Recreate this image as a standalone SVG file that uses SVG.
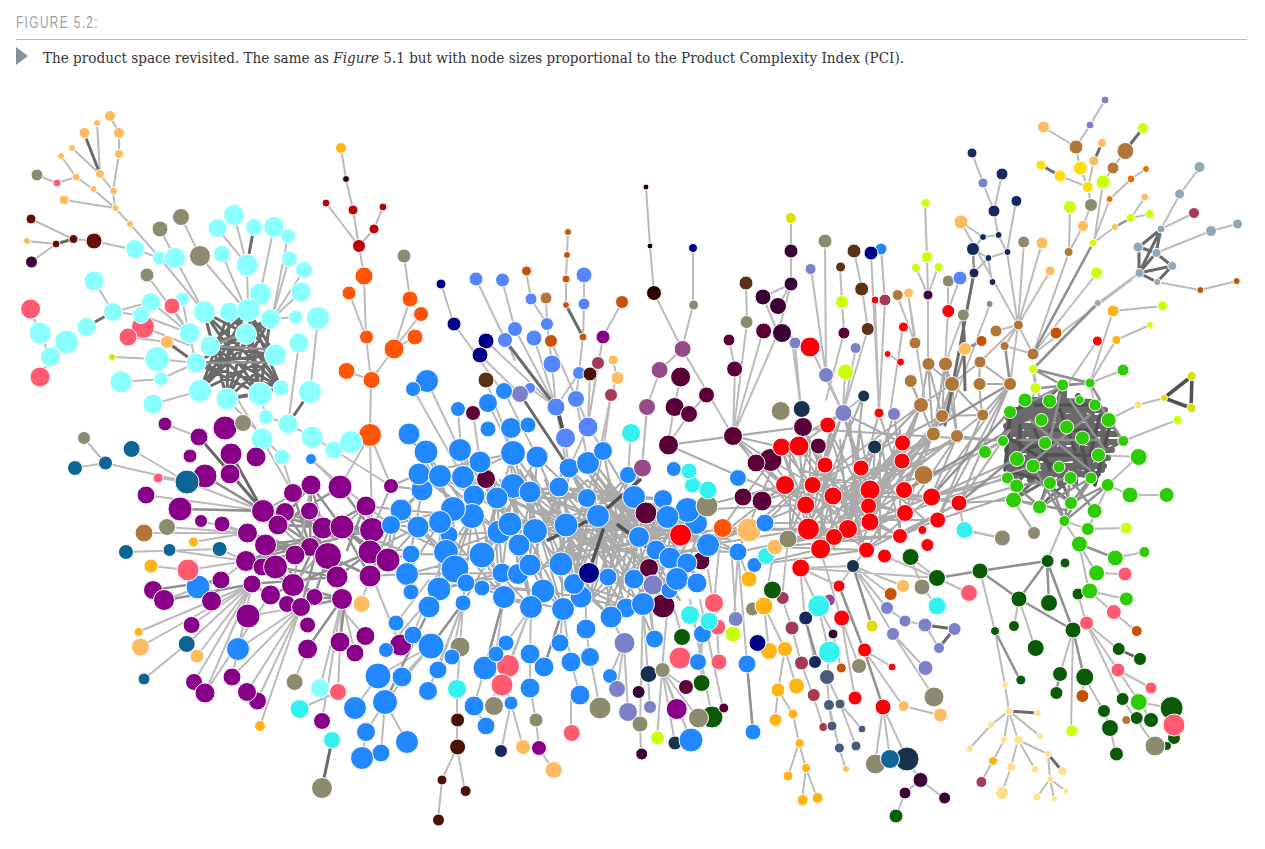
<svg xmlns="http://www.w3.org/2000/svg" width="1265" height="849" viewBox="0 0 1265 849">
<style>
text{white-space:pre}
.t1{font:17px "Liberation Sans",sans-serif;fill:#9a9ea3;letter-spacing:2px}
.t2{font:14px "DejaVu Serif",serif;fill:#333}
circle{stroke:#fff;stroke-width:1}
path.e{fill:none;stroke-linecap:round;stroke-linejoin:round}
.l{stroke:#bbb;stroke-width:2}
.m{stroke:#aaa;stroke-width:2}
.g{stroke:#909090;stroke-width:2.5}
.h{stroke:#6a6a6a;stroke-width:3}
.d{stroke:#505050;stroke-width:3.5}
.x{stroke:#666;stroke-width:6}
.cy{fill:#8affff}.pu{fill:#880088}.bl{fill:#2288ff}.re{fill:#ff0008}.gr{fill:#2ecc05}.dg{fill:#0b5a08}
.ma{fill:#5c0038}.dp{fill:#3a0038}.or{fill:#ff5505}.ta{fill:#b07738}.lo{fill:#ffbb60}.yo{fill:#ffb414}
.pk{fill:#ff5a70}.ol{fill:#8c8b70}.pe{fill:#7b80c8}.mb{fill:#5586ff}.na{fill:#000088}.nt{fill:#17324f}
.te{fill:#0f6496}.tu{fill:#33f2f0}.yg{fill:#c8ff0a}.ye{fill:#dddd00}.go{fill:#ffdd0a}.py{fill:#ffe08a}
.dr{fill:#bb0008}.br{fill:#670c04}.db{fill:#5a3216}.ru{fill:#c65208}.oa{fill:#e07400}.gb{fill:#91a8b8}
.sl{fill:#4a5a78}.ro{fill:#a43a55}.mv{fill:#964a88}.nb{fill:#16285c}.dk{fill:#4a1205}.bk{fill:#300000}
</style>
<text class="t1" x="16" y="28" textLength="83" lengthAdjust="spacingAndGlyphs">FIGURE 5.2:</text>
<path d="M16 39.500H1247" stroke="#bbb" stroke-width="1" fill="none"/>
<path d="M16 47L28 56L16 65Z" fill="#8a929a"/>
<text class="t2" x="43" y="63" textLength="861" lengthAdjust="spacingAndGlyphs">The product space revisited. The same as <tspan font-style="italic">Figure</tspan> 5.1 but with node sizes proportional to the Product Complexity Index (PCI).</text>
<g id="connectors">
<path class="e m" d="M401 510 472 516 419 474 499 532 440 476 535 531 463 477 566 525 513 486 598 516 530 492 639 537 559 487 656 550 587 498 670 558 634 497 708 545M391 525 446 552 418 527 455 569 449 535 504 597 482 555 531 607 519 545 563 609 561 564 611 617 574 584 643 604 608 577 677 579 634 579 697 583M422 490 407 574 440 522 439 589 472 516 463 603 510 524 543 591 530 492 581 597 566 525 626 608 598 516 654 639 639 537 669 590M513 453 482 555 537 457 530 565 569 468 561 564 603 451 574 584 628 475 608 577 634 497 634 579 663 499 656 550 687 510 670 558M409 434 453 509 426 452 472 516 460 450 510 524 480 462 535 531 513 453 566 525 537 457 598 516 569 468 639 537 588 463 656 550M401 510 446 552 453 509 455 569 472 516 482 555 497 498 502 573 513 486 518 574 530 492 530 565 559 487 561 564 587 498 574 584 598 516 608 577M411 554 482 555 407 574 502 573 439 589 518 574 466 583 543 591 482 588 531 607 504 597 563 609 543 591 581 597 626 608 574 584 611 617M419 474 513 453 463 477 530 492 474 496 559 487 497 498 587 498 530 492 634 497 559 487 663 499 587 498 687 510 598 516 696 523M391 525 418 527 449 535 499 532 535 531 566 525 598 516 639 537 667 517 708 545 680 535 738 552M440 476 401 510 422 490 391 525 453 509 418 527 472 516 446 552 499 532 482 555 510 524 519 545 535 531 561 564 566 525 574 584 598 516 611 617 639 537 626 608 670 558 643 604"/>
<path class="e m" d="M530 492 590 540 535 531 610 500 559 487 620 560 566 525 640 590 587 498 680 560 598 516 660 600 634 497 620 590 639 537 590 600 656 550 600 470 670 558 575 500 680 535 560 555 663 499 540 570 628 475 620 530 603 451 650 530 587 480 545 520M560 470 575 560 610 480 590 600 640 470 605 610 655 510 640 610 680 500 655 600 705 510 680 590M500 480 560 600 520 470 590 590 545 480 625 590 570 470 650 580 590 475 670 570M470 470 500 590 490 470 530 600 510 460 565 590 530 470 590 570M600 520 680 600 620 500 700 580 640 500 720 550 660 520 730 540M510 500 610 550 520 520 630 530 540 510 650 560 560 530 680 530 575 560 700 520 590 540 720 530"/>
<path class="e m" d="M598 516 708 545 634 497 738 552 656 550 765 523 670 558 805 505 687 510 785 485 708 545 808 529 722 528 781 447 738 552 848 529 749 530 825 465 765 523 870 522 788 539 905 513M733 436 808 529 781 447 848 529 799 446 870 522 825 465 866 550 785 485 900 536 812 485 905 513 833 496 931 497 870 490 959 503M757 463 805 505 770 460 833 496 803 427 866 550 827 425 868 506 843 413 870 490 894 414 904 490 879 413 848 529 863 396 808 529M744 497 785 485 762 501 812 485 788 539 833 496 808 529 870 490 820 549 905 513 848 529 931 497 866 550 959 503 900 536 937 520M781 447 805 505 799 446 808 529 819 446 834 537 825 465 820 549 861 468 848 529 875 447 870 522 902 443 868 506 902 461 834 537M843 413 781 447 843 413 799 446 843 413 825 465 843 413 861 468 843 413 902 443 843 413 805 505 843 413 870 490M733 436 803 427 733 436 781 447 733 436 770 460 733 436 785 485 733 436 805 505 668 445 733 436 668 445 803 427M722 528 808 529 749 530 848 529 775 547 870 522 788 539 900 536 775 547 866 550 754 565 820 549M902 443 921 405 902 461 942 416 904 490 933 434 905 513 957 436 931 497 1010 384 959 503 1010 384 937 520 982 415 868 506 957 436 870 490 933 434 866 550 933 434M861 468 921 405 870 522 942 416 848 529 933 434 833 496 921 405 812 485 942 416M921 405 928 364 942 416 945 364 952 384 928 364 933 434 945 364 957 436 952 384 921 405 910 381 933 434 952 384 942 416 982 415 979 384 1010 384 982 415 952 384 980 362 979 384 1010 384 980 362M840 440 850 540 860 430 880 540 880 440 900 530 900 430 860 550 850 420 820 540 830 430 810 530 810 440 790 530 790 450 835 550M800 470 920 500 810 490 925 460 820 510 930 440 835 525 915 430 850 500 940 470 860 520 925 520 870 470 960 440"/>
<path class="e g" d="M263 511 323 528 285 512 342 527 278 525 372 530 265 545 328 556 247 533 295 555 246 561 293 585 275 567 337 577 252 584 270 595 293 585 342 599 314 597 328 556 370 576 342 527 388 560 370 552 337 577M293 493 310 547 311 485 278 525 340 487 372 530 366 506 323 528 311 485 342 527 285 512 310 547 265 545 314 597 287 604 323 528 301 607 342 599 293 585 370 552 342 527 246 561 372 530 263 511 328 556 342 599M347 550 362 513"/>
<path class="e m" d="M401 510 366 506 372 530 391 486 372 530 401 510 388 560 418 527 370 552 407 574 370 576 391 525 388 560 411 554 342 527 366 506 391 525M391 486 422 490 391 486 419 474M310 547 337 577 278 525 309 511 342 527 293 585 311 485 263 511"/>
<path class="e h" d="M231 454 263 511"/>
<path class="e l" d="M165 424 199 437M199 437 263 511M230 474 263 511M205 476 263 511M187 482 263 511M146 495 263 511M180 509 263 511M201 521 247 533M222 524 247 533M167 527 247 533M144 533 247 533M193 542 247 533M126 552 219 549 246 561M169 550 246 561M151 566 188 570 246 561M164 600 221 580 246 561M211 601 252 584M191 625 252 584M138 632 252 584M140 647 252 584M197 656 252 584M187 644 252 584M144 679 187 644M194 682 252 584M205 693 252 584M232 677 301 607M247 692 301 607M257 701 301 607M260 726 301 607M238 649 301 607M248 616 301 607M232 677 252 584M205 693 270 595M294 682 307 649M320 688 342 599M338 692 340 642M322 721 342 599M299 709 338 692M340 642 342 599M355 653 342 599M365 636 342 610M400 645 372 576M361 604 370 576M84 438 105 463 75 468M105 463 187 482M131 449 187 482M158 478 187 482M243 423 225 428M282 457 293 493M262 439 293 493M311 459 366 506M334 450 391 486M370 435 391 486M370 435 340 487M370 435 372 530M311 459 340 487"/>
<path class="e g" d="M153 590 221 580M307 649 342 599M180 509 263 511M205 476 263 511M167 600 252 584M340 642 345 600"/>
<path class="e h" d="M199 437 263 511M322 788 332 740"/>
<path class="e h" d="M204 312 246 334 229 312 275 355 248 310 210 346 270 319 196 363 246 334 260 394 204 312 227 399 229 312 281 388 248 310 200 391 270 319 227 399 275 355 200 391 246 334 281 388 210 346 260 394 196 363 275 355 227 399 260 394M210 346 275 355 196 363M204 312 281 388M246 334 227 399M270 319 260 394M229 312 200 391M227 399 281 388M248 310 260 394M210 346 281 388M196 363 281 388"/>
<path class="e g" d="M196 363 275 362M210 346 281 350M250 330 213 346"/>
<path class="e l" d="M110 116 119 133 119 154 113 191 115 208 130 224 160 258 204 312M97 123 100 174 113 191M72 148 100 174M61 156 76 177 93 189 115 208M64 200 115 208M37 175 57 183 76 177M31 219 73 239M27 241 56 244M31 262 56 244M73 239 94 241 135 250M135 249 159 258 175 258 204 312M200 256 247 312M181 217 200 256M160 229 175 258M234 215 247 265M217 228 247 265M222 254 247 312M247 265 248 310M274 227 260 294M288 236 272 319M289 259 272 319M304 270 272 319M301 292 272 319M296 317 270 319M318 318 310 392M299 343 288 424M94 281 113 312 151 302M141 315 189 333M113 312 141 315M66 342 50 357M40 333 50 357M40 333 30 309M50 357 40 377M147 275 189 333M151 302 189 333M182 299 189 333M172 306 189 333M128 337 167 342M157 359 196 363M112 357 157 359M161 379 196 363M121 382 161 379M153 404 200 391M189 333 196 363M143 327 189 345M260 394 266 417 288 424 312 437 334 450M238 400 262 439M227 399 282 457"/>
<path class="e h" d="M84 133 100 174M86 327 113 312M167 342 196 363M247 265 254 227M288 424 310 392M56 244 73 239"/>
<path class="e l" d="M341 148 346 179 353 210 359 246 364 276 366 337 371 380 370 435M326 203 359 246M383 207 374 229 359 246M349 293 366 337M394 349 371 380M410 299 394 349M421 314 394 349M415 337 394 349M346 371 371 380M404 256 410 299M364 276 366 337"/>
<path class="e l" d="M441 284 454 324 505 395M486 341 556 407M480 355 520 394M476 279 515 360M502 280 515 329 556 407M505 340 556 407M534 338 556 407M531 299 547 324 552 364 556 407M546 298 547 324M526 271 531 299M584 275 584 304 583 337 576 399M568 232 567 255 566 279 566 305M551 341 588 425M622 302 603 337 588 425M598 363 588 425M613 360 617 378 611 395 600 450M590 374 588 425M579 373 556 407M530 388 556 407M427 381 472 476M413 389 463 477M486 380 513 453M458 409 463 477M473 413 480 462M504 391 537 457M488 403 513 453M520 394 569 468M611 395 603 451M631 432 628 475M576 399 588 463M556 407 566 463M588 425 603 451M565 438 569 468M588 427 569 468M647 407 642 468"/>
<path class="e h" d="M505 340 556 407M566 305 583 337M520 394 569 468M556 407 565 438"/>
<path class="e d" d="M557 407 565 438M598 516 640 480M603 530 588 575M548 540 598 516M618 525 665 560"/>
<path class="e l" d="M431 646 463 603M428 691 463 603M460 647 463 603M457 689 460 647M457 720 457 689M457 747 457 720M442 780 457 747M465 791 457 747M438 820 442 780M485 668 504 597M496 654 504 597M506 643 543 591M530 654 531 607M544 667 563 609M530 688 530 654M511 703 496 654M501 751 511 703M523 747 511 703M536 720 530 688M539 748 536 720M553 770 539 748M571 662 563 609M590 657 586 629M580 695 571 662M571 733 571 695M600 708 590 657M560 643 563 609M610 676 624 643M617 689 624 643M628 712 624 643M650 707 643 604M640 724 643 604M641 754 640 724M657 738 662 670M675 743 662 670M691 740 662 670M686 687 662 670M648 674 662 670M662 670 669 590M586 629 586 600M624 643 611 617M494 706 496 654M474 706 485 668M486 726 474 706M508 666 531 607M502 685 531 607M396 623 429 580M413 635 446 552M386 650 455 569M452 657 463 603M438 670 463 603M378 676 431 646M402 677 431 646M385 702 431 646M355 708 378 676M366 732 385 702M381 753 385 702M362 758 366 732M407 742 385 702M654 639 650 600M698 662 702 634M714 603 720 540M719 662 717 627 708 570M736 619 732 560M733 634 738 552M747 664 738 552M753 732 747 664M682 637 669 590M701 683 702 634M712 717 690 600M723 708 700 600M677 709 662 670M698 718 662 670"/>
<path class="e g" d="M431 646 463 603M385 702 439 589M753 732 747 664M485 668 504 597M544 667 563 609"/>
<path class="e l" d="M654 293 682 349M646 187 650 246 654 293M693 248 693 305 682 349M682 349 660 370 647 407 642 468M682 349 733 436M681 377 674 407M706 395 689 414 668 445M674 407 668 445M729 340 735 369 733 436M746 283 747 322 733 436M763 297 778 333M791 218 791 251 791 284 778 333 733 436M763 331 733 436M763 297 791 284M778 306 791 284M825 241 826 375M811 269 826 375 843 413M791 333 801 409M795 343 801 409M810 347 843 413M842 302 844 333 826 400M856 348 843 413M845 372 843 413M864 396 843 413M840 267 842 302M854 251 862 289 868 329 843 413M871 253 879 413M881 249 885 300 879 413M875 300 879 413M903 327 890 413M888 354 900 362M915 343 908 293 925 400M897 295 915 343M928 295 928 364M925 203 927 257 928 295M916 268 928 295M938 267 928 295M948 311 945 364M948 281 948 311M960 278 948 311M963 315 945 364M963 315 966 349M990 304 945 425M980 362 1018 325M1018 325 961 222M1018 325 1024 242M1018 325 1042 243M1018 325 1050 271M1018 325 996 331M1018 325 1033 354M1018 325 1005 346M1018 325 1010 384M1033 354 1069 252 1070 207M1069 252 1083 226 1091 205M1033 354 1093 243 1110 199M1033 354 1097 273M1033 369 1097 303M1033 354 1131 280M1005 346 1033 354M1090 383 1113 311 1163 306M1090 383 1116 340 1150 325M1123 370 1090 383M1094 243 1103 182M1091 205 1088 187 1060 176M1088 187 1080 168 1076 147M1043 127 1076 147 1090 125 1105 100M1088 187 1094 161 1102 143M1125 151 1103 182M1113 168 1103 182M1088 187 1091 205M1110 199 1131 179 1146 169M1093 243 1115 227 1131 218 1145 197M1131 218 1150 214M1098 303 1139 273M1139 273 1161 229 1180 194 1200 167M1161 229 1194 213M1156 253 1211 231 1237 224M1157 282 1200 290 1237 281M972 153 983 183 994 211 998 235 1007 252M1002 174 994 211M1016 201 1007 252M983 237 973 249 988 258 1007 252M983 237 998 235M988 258 992 282M974 273 988 258M1007 252 1018 325M961 222 983 237M1035 388 1010 490M1035 388 1033 369M1097 341 1010 470M1123 441 1177 420M1108 420 1138 405 1164 398M1138 457 1098 455M1090 383 1123 370M1090 383 1095 405M1130 495 1166 495M1107 485 1130 495M1064 521 1079 544 1096 573M1107 485 1138 457M1033 369 1090 383M1040 400 1033 369"/>
<path class="e g" d="M974 273 973 249M1033 354 1093 243M1098 303 1033 369M982 341 965 349M965 349 946 412M963 315 965 349M1005 346 1010 384M1131 218 1115 227"/>
<path class="e h" d="M1102 143 1094 161M1143 128 1125 151M1041 165 1060 176M1139 273 1161 229M1139 247 1156 253 1172 266M1139 273 1156 253M1139 273 1172 266 1157 282M1139 273 1157 282M1139 247 1139 273M1161 229 1139 247M1161 229 1156 253M963 315 965 390M974 273 945 425"/>
<path class="e d" d="M1164 398 1192 376 1191 408 1164 398"/>
<path class="e x" d="M1025 400 1095 402M1012 410 1105 410M1008 418 1110 418M1006 426 1112 426M1005 434 1116 434M1005 442 1118 442M1007 450 1112 450M1010 458 1108 458M1014 466 1104 466M1020 474 1098 474M1010 415 1010 470M1022 402 1015 478M1036 400 1030 480M1050 396 1045 484M1064 392 1060 484M1078 396 1075 484M1092 402 1090 478M1104 412 1102 470"/>
<path class="e h" d="M1020 402 1108 420 1010 412 1095 405 1025 400 1082 438 1003 441 1123 441 1017 460 1099 455 1033 466 1098 400 1010 476 1108 420 1041 420 1070 478 1026 402 1092 478 1050 401 1050 483 1065 386 1016 486 1079 400 1039 507 1108 445 1013 500 1082 438 1010 412 1059 467 1045 443 1071 503 1017 460 1091 478 1003 441 1050 483 1010 412 1033 466M1025 400 1017 460 1041 420 1033 466 1066 427 1059 467 1082 438 1091 478 1098 455 1123 441 1108 420 1082 438 1095 405 1066 427 1079 400 1045 443 1062 385 1003 441 1010 412 1045 443 1025 400"/>
<path class="e d" d="M1010 415 1005 470M1012 412 1030 402M1012 440 1060 470M1035 405 1100 405M1110 425 1095 485M1050 430 1090 430M1020 450 1060 440M1080 440 1090 480M1045 455 1095 455M1012 472 1040 480M1020 425 1020 470M1100 415 1090 455M1060 410 1075 450M1035 430 1050 470"/>
<path class="e g" d="M1034 400 1064 385 1090 383 1100 400M1040 388 1090 383M1033 369 1062 385M1033 369 1090 383M1100 405 1123 441M1035 480 1071 503M1050 483 1039 507M1070 478 1094 511M1091 478 1071 503M1107 485 1071 503M1016 486 1070 478 1065 521 1050 483M1033 466 1065 521M1092 478 1064 521M1108 485 1065 521M1014 500 1065 510M1040 507 1091 478M1016 486 1040 507M1030 420 1090 470M1090 415 1035 460M1060 395 1050 440M1070 400 1105 450M1020 440 1100 440"/>
<path class="e m" d="M905 490 1003 441M931 497 1010 478M959 503 1013 500M931 497 1017 459M905 513 1010 476M937 520 1013 495M959 503 1016 486M931 497 1033 466M810 429 1003 441M957 436 1003 441M985 452 1003 441M959 503 1010 430M900 536 959 503M931 497 959 503M1013 500 1035 533M1002 538 964 530M1014 500 1040 507"/>
<path class="e g" d="M931 497 1009 412M905 490 1010 430M959 503 1035 440M1010 384 940 425"/>
<path class="e l" d="M749 579 738 552M764 606 775 547M769 651 764 606M785 649 764 606M778 690 785 649M796 686 785 649M775 720 778 690M793 714 778 690M799 743 793 714M806 768 799 743M788 776 799 743M802 800 806 768M817 798 806 768M782 598 788 540M792 628 782 598M801 663 792 628M813 695 801 663M823 727 813 695M805 618 800 568M818 606 800 568M829 652 818 606M815 662 805 618M827 677 829 652M829 705 827 677M840 704 827 677M832 726 829 705M862 729 840 704M839 748 829 705M856 746 840 704M846 769 839 748M839 586 800 568M841 618 820 549M833 634 818 606M855 698 841 618M859 666 841 618M841 668 833 634M892 667 864 650M903 706 864 650M940 715 903 706M875 764 883 707M890 759 883 707M907 759 883 707M920 780 907 759M905 793 920 780M944 798 920 780M896 816 905 793M853 566 800 568M853 566 887 608M853 566 839 586M853 566 903 586M853 566 866 550M887 608 905 621 925 625M925 625 939 648M893 634 853 566M925 668 893 634M934 697 893 634M884 556 937 578M910 557 937 578M937 578 969 593M937 606 922 587M922 587 910 557M890 594 853 566M800 568 937 578M1019 599 1014 626M1019 599 1035 648M995 631 1005 685M980 571 995 631M1047 561 1064 521M1078 594 1086 623M1073 630 1086 623M1073 630 1060 674M1073 630 1071 731M1084 677 1104 711M1082 696 1084 677M1104 711 1110 728 1116 754M1115 558 1144 552M1079 544 1096 573M1079 544 1089 591M1096 573 1125 574M1089 591 1126 599M1089 591 1113 612M1113 612 1136 631M1086 623 1118 649M1086 623 1118 670M1118 670 1151 688M1086 623 1122 699M1122 699 1155 746M1118 670 1151 720M1138 702 1171 708M1126 528 1088 529 1108 485M1064 521 1088 529M1002 538 964 530 959 503M1034 533 1013 500"/>
<path class="e g" d="M864 650 839 586M883 707 864 650M853 566 872 626M980 571 1019 599M1047 561 1019 599M1047 561 1049 603M1047 561 1073 630M1019 599 1073 630M995 631 1020 680M1073 630 1084 677M1060 674 1056 693M1079 544 1115 558M937 578 980 571 1047 561M805 618 817 660"/>
<path class="e h" d="M925 625 954 629 939 648M1118 649 1140 659M1009 711 1037 713M1048 754 1062 771"/>
<path class="e l" d="M1005 685 1009 711 991 725 969 749M1009 711 1004 740 993 761 981 782M1009 711 1018 740 1011 767 1002 793M1009 711 1040 736M1018 740 1035 769M1018 740 1048 754 1050 779 1066 791M1050 779 1037 797M1050 779 1054 799"/>
</g>
<g id="nodes">
<g id="n1" class="lo"><circle cx="110" cy="116" r="5.500"/></g>
<g id="n2" class="lo"><circle cx="97" cy="123" r="3.500"/></g>
<g id="n3" class="lo"><circle cx="84.500" cy="133" r="5.500"/></g>
<g id="n4" class="lo"><circle cx="119" cy="133" r="5.500"/></g>
<g id="n5" class="lo"><circle cx="72" cy="148" r="3.500"/></g>
<g id="n6" class="lo"><circle cx="61" cy="156" r="3.500"/></g>
<g id="n7" class="lo"><circle cx="119" cy="154" r="4.500"/></g>
<g id="n8" class="lo"><circle cx="100" cy="174" r="4.500"/></g>
<g id="n9" class="lo"><circle cx="76" cy="177" r="4"/></g>
<g id="n10" class="lo"><circle cx="93.500" cy="189" r="3.500"/></g>
<g id="n11" class="lo"><circle cx="113.500" cy="191" r="4"/></g>
<g id="n12" class="lo"><circle cx="64" cy="200" r="5"/></g>
<g id="n13" class="lo"><circle cx="115.500" cy="208" r="3.500"/></g>
<g id="n14" class="lo"><circle cx="130" cy="224" r="3.500"/></g>
<g id="n15" class="lo"><circle cx="27" cy="241" r="3.500"/></g>
<g id="n16" class="ol"><circle cx="37" cy="175" r="6"/></g>
<g id="n17" class="pk"><circle cx="57" cy="183" r="4"/></g>
<g id="n18" class="br"><circle cx="31" cy="219" r="5"/></g>
<g id="n19" class="br"><circle cx="56" cy="244" r="4"/></g>
<g id="n20" class="br"><circle cx="73.500" cy="239" r="4.500"/></g>
<g id="n21" class="br"><circle cx="94" cy="241" r="8"/></g>
<g id="n22" class="dp"><circle cx="31.500" cy="262" r="6"/></g>
<g id="n23" class="ol"><circle cx="181" cy="217" r="8.500"/></g>
<g id="n24" class="ol"><circle cx="160" cy="229" r="8"/></g>
<g id="n25" class="ol"><circle cx="200" cy="256" r="10.500"/></g>
<g id="n26" class="ol"><circle cx="147" cy="275" r="7"/></g>
<g id="n27" class="pk"><circle cx="30.600" cy="309" r="10"/></g>
<g id="n28" class="pk"><circle cx="40" cy="377" r="10"/></g>
<g id="n29" class="pk"><circle cx="143" cy="327" r="11.500"/></g>
<g id="n30" class="pk"><circle cx="128" cy="337" r="9"/></g>
<g id="n31" class="lo"><circle cx="167" cy="342" r="6.500"/></g>
<g id="n32" class="ye"><circle cx="112" cy="357" r="3.500"/></g>
<g id="n33" class="cy"><circle cx="135" cy="249" r="9.500"/></g>
<g id="n34" class="cy"><circle cx="159.500" cy="258" r="7"/></g>
<g id="n35" class="cy"><circle cx="175" cy="258" r="10.500"/></g>
<g id="n36" class="cy"><circle cx="234" cy="215" r="10.500"/></g>
<g id="n37" class="cy"><circle cx="217.500" cy="228" r="9.500"/></g>
<g id="n38" class="cy"><circle cx="254" cy="227" r="8.500"/></g>
<g id="n39" class="cy"><circle cx="288" cy="236" r="7.500"/></g>
<g id="n40" class="cy"><circle cx="274" cy="227" r="10.500"/></g>
<g id="n41" class="cy"><circle cx="222" cy="254" r="8.500"/></g>
<g id="n42" class="cy"><circle cx="247" cy="265" r="11"/></g>
<g id="n43" class="cy"><circle cx="289.500" cy="259" r="8"/></g>
<g id="n44" class="cy"><circle cx="304" cy="270" r="8.500"/></g>
<g id="n45" class="cy"><circle cx="260.500" cy="294" r="11"/></g>
<g id="n46" class="cy"><circle cx="301" cy="292" r="10"/></g>
<g id="n47" class="cy"><circle cx="94" cy="281" r="10"/></g>
<g id="n48" class="cy"><circle cx="113" cy="312" r="9.500"/></g>
<g id="n49" class="cy"><circle cx="182.500" cy="299" r="7"/></g>
<g id="n50" class="pk"><circle cx="172" cy="306" r="8"/></g>
<g id="n51" class="cy"><circle cx="151" cy="302" r="9.500"/></g>
<g id="n52" class="cy"><circle cx="141" cy="315" r="8.500"/></g>
<g id="n53" class="cy"><circle cx="204.500" cy="312" r="11"/></g>
<g id="n54" class="cy"><circle cx="229.500" cy="312" r="10"/></g>
<g id="n55" class="cy"><circle cx="248.500" cy="310" r="11.500"/></g>
<g id="n56" class="cy"><circle cx="270.500" cy="319" r="10"/></g>
<g id="n57" class="cy"><circle cx="296" cy="317" r="7"/></g>
<g id="n58" class="cy"><circle cx="318" cy="318" r="11.500"/></g>
<g id="n59" class="cy"><circle cx="86.500" cy="327" r="9.500"/></g>
<g id="n60" class="cy"><circle cx="40" cy="333" r="11"/></g>
<g id="n61" class="cy"><circle cx="66.500" cy="342" r="12"/></g>
<g id="n62" class="cy"><circle cx="50.500" cy="357" r="10"/></g>
<g id="n63" class="cy"><circle cx="189.500" cy="333" r="10.500"/></g>
<g id="n64" class="cy"><circle cx="246" cy="334" r="10.500"/></g>
<g id="n65" class="cy"><circle cx="299" cy="343" r="10"/></g>
<g id="n66" class="cy"><circle cx="210" cy="346" r="10"/></g>
<g id="n67" class="cy"><circle cx="157" cy="359" r="12.500"/></g>
<g id="n68" class="cy"><circle cx="196" cy="363" r="10"/></g>
<g id="n69" class="cy"><circle cx="275.500" cy="355" r="11"/></g>
<g id="n70" class="cy"><circle cx="121" cy="382" r="11"/></g>
<g id="n71" class="cy"><circle cx="161" cy="379" r="7"/></g>
<g id="n72" class="cy"><circle cx="200" cy="391" r="11.500"/></g>
<g id="n73" class="cy"><circle cx="310" cy="392" r="11.500"/></g>
<g id="n74" class="cy"><circle cx="281" cy="388" r="8"/></g>
<g id="n75" class="cy"><circle cx="260" cy="394" r="12"/></g>
<g id="n76" class="cy"><circle cx="227" cy="399" r="11"/></g>
<g id="n77" class="cy"><circle cx="153" cy="404" r="10"/></g>
<g id="n78" class="cy"><circle cx="266" cy="417" r="7.500"/></g>
<g id="n79" class="cy"><circle cx="288" cy="424" r="10"/></g>
<g id="n80" class="cy"><circle cx="262" cy="439" r="11"/></g>
<g id="n81" class="cy"><circle cx="312" cy="437" r="11"/></g>
<g id="n82" class="cy"><circle cx="282" cy="457" r="8"/></g>
<g id="n83" class="cy"><circle cx="334" cy="450" r="9"/></g>
<g id="n84" class="or"><circle cx="370" cy="435" r="11.500"/></g>
<g id="n85" class="cy"><circle cx="351" cy="442" r="11.500"/></g>
<g id="n86" class="yo"><circle cx="341" cy="148" r="5.500"/></g>
<g id="n87" class="bk"><circle cx="346" cy="179" r="3.500"/></g>
<g id="n88" class="dr"><circle cx="326" cy="203" r="4"/></g>
<g id="n89" class="dr"><circle cx="353" cy="210" r="5"/></g>
<g id="n90" class="dr"><circle cx="383" cy="207" r="4"/></g>
<g id="n91" class="dr"><circle cx="374" cy="229" r="5"/></g>
<g id="n92" class="dr"><circle cx="359" cy="246" r="6.500"/></g>
<g id="n93" class="or"><circle cx="364" cy="276" r="9"/></g>
<g id="n94" class="or"><circle cx="349" cy="293" r="7"/></g>
<g id="n95" class="or"><circle cx="410" cy="299" r="8"/></g>
<g id="n96" class="or"><circle cx="421" cy="314" r="7.500"/></g>
<g id="n97" class="or"><circle cx="366.500" cy="337" r="7"/></g>
<g id="n98" class="or"><circle cx="415" cy="337" r="8"/></g>
<g id="n99" class="or"><circle cx="394" cy="349" r="10"/></g>
<g id="n100" class="or"><circle cx="371.500" cy="380" r="8.500"/></g>
<g id="n101" class="or"><circle cx="346.500" cy="371" r="8.500"/></g>
<g id="n102" class="ol"><circle cx="404" cy="256" r="7"/></g>
<g id="n103" class="na"><circle cx="441" cy="284" r="5"/></g>
<g id="n104" class="na"><circle cx="454" cy="324" r="7"/></g>
<g id="n105" class="na"><circle cx="486" cy="341" r="8"/></g>
<g id="n106" class="na"><circle cx="480" cy="355" r="8"/></g>
<g id="n107" class="mb"><circle cx="476" cy="279" r="7"/></g>
<g id="n108" class="mb"><circle cx="502.500" cy="280" r="7"/></g>
<g id="n109" class="mb"><circle cx="515" cy="329" r="7.500"/></g>
<g id="n110" class="mb"><circle cx="505" cy="340" r="7.500"/></g>
<g id="n111" class="mb"><circle cx="534" cy="338" r="8"/></g>
<g id="n112" class="mb"><circle cx="531" cy="299" r="6"/></g>
<g id="n113" class="mb"><circle cx="547" cy="324" r="6.500"/></g>
<g id="n114" class="mb"><circle cx="584" cy="275" r="8"/></g>
<g id="n115" class="mb"><circle cx="584" cy="304" r="6"/></g>
<g id="n116" class="mb"><circle cx="552" cy="364" r="9"/></g>
<g id="n117" class="mb"><circle cx="579" cy="373" r="6.500"/></g>
<g id="n118" class="mb"><circle cx="530" cy="388" r="5.500"/></g>
<g id="n119" class="mb"><circle cx="576" cy="399" r="8.500"/></g>
<g id="n120" class="mb"><circle cx="556" cy="407" r="9"/></g>
<g id="n121" class="mb"><circle cx="588" cy="427" r="10"/></g>
<g id="n122" class="mb"><circle cx="565.500" cy="438" r="10"/></g>
<g id="n123" class="ru"><circle cx="526.500" cy="271" r="5"/></g>
<g id="n124" class="ru"><circle cx="568" cy="232" r="3.500"/></g>
<g id="n125" class="ru"><circle cx="567" cy="255" r="3.500"/></g>
<g id="n126" class="ru"><circle cx="566" cy="279" r="4"/></g>
<g id="n127" class="ru"><circle cx="566" cy="305" r="3.500"/></g>
<g id="n128" class="ru"><circle cx="583" cy="337" r="4"/></g>
<g id="n129" class="ru"><circle cx="551" cy="341" r="6.500"/></g>
<g id="n130" class="ru"><circle cx="622" cy="302" r="6.500"/></g>
<g id="n131" class="ta"><circle cx="546" cy="298" r="6"/></g>
<g id="n132" class="pu"><circle cx="603" cy="337" r="7"/></g>
<g id="n133" class="ro"><circle cx="598" cy="363" r="6.500"/></g>
<g id="n134" class="ro"><circle cx="611" cy="395" r="6.500"/></g>
<g id="n135" class="lo"><circle cx="613" cy="360" r="5"/></g>
<g id="n136" class="lo"><circle cx="617.500" cy="378" r="6.500"/></g>
<g id="n137" class="dk"><circle cx="590" cy="374" r="7"/></g>
<g id="n138" class="db"><circle cx="486" cy="380" r="8"/></g>
<g id="n139" class="pe"><circle cx="520" cy="394" r="8.500"/></g>
<g id="n140" class="bl"><circle cx="427" cy="381" r="11.500"/></g>
<g id="n141" class="bl"><circle cx="413" cy="389" r="7.500"/></g>
<g id="n142" class="bl"><circle cx="504" cy="391" r="8.500"/></g>
<g id="n143" class="bl"><circle cx="488" cy="403" r="9.500"/></g>
<g id="n144" class="bl"><circle cx="458" cy="409" r="7.500"/></g>
<g id="n145" class="ma"><circle cx="473" cy="413" r="7.500"/></g>
<g id="n146" class="tu"><circle cx="631" cy="433" r="9.500"/></g>
<g id="n147" class="mv"><circle cx="647" cy="407" r="8.500"/></g>
<g id="n148" class="pu"><circle cx="165" cy="424" r="7"/></g>
<g id="n149" class="pu"><circle cx="225" cy="428" r="12"/></g>
<g id="n150" class="ol"><circle cx="243" cy="423" r="8.500"/></g>
<g id="n151" class="pu"><circle cx="199" cy="437" r="9"/></g>
<g id="n152" class="pu"><circle cx="190" cy="456" r="7"/></g>
<g id="n153" class="pu"><circle cx="256" cy="457" r="10"/></g>
<g id="n154" class="pu"><circle cx="231" cy="454" r="11"/></g>
<g id="n155" class="pu"><circle cx="205" cy="476" r="12"/></g>
<g id="n156" class="pu"><circle cx="230" cy="474" r="10"/></g>
<g id="n157" class="pu"><circle cx="146" cy="495" r="9"/></g>
<g id="n158" class="pu"><circle cx="180" cy="509" r="12"/></g>
<g id="n159" class="pu"><circle cx="201" cy="521" r="6.500"/></g>
<g id="n160" class="pu"><circle cx="222" cy="524" r="8"/></g>
<g id="n161" class="ol"><circle cx="84" cy="438" r="6.500"/></g>
<g id="n162" class="te"><circle cx="131.600" cy="449" r="8.500"/></g>
<g id="n163" class="te"><circle cx="105.500" cy="463" r="7"/></g>
<g id="n164" class="te"><circle cx="75" cy="468" r="7.500"/></g>
<g id="n165" class="pk"><circle cx="158" cy="478" r="5"/></g>
<g id="n166" class="te"><circle cx="187" cy="482" r="12"/></g>
<g id="n167" class="ol"><circle cx="167" cy="527" r="8.500"/></g>
<g id="n168" class="ta"><circle cx="144" cy="533" r="9"/></g>
<g id="n169" class="yo"><circle cx="193.500" cy="542" r="5"/></g>
<g id="n170" class="te"><circle cx="126" cy="552" r="7.500"/></g>
<g id="n171" class="te"><circle cx="169.500" cy="550" r="6.500"/></g>
<g id="n172" class="te"><circle cx="219.600" cy="549" r="7.500"/></g>
<g id="n173" class="yo"><circle cx="151" cy="566" r="7"/></g>
<g id="n174" class="bl"><circle cx="198" cy="587" r="12"/></g>
<g id="n175" class="pk"><circle cx="188" cy="570" r="11"/></g>
<g id="n176" class="pu"><circle cx="221" cy="580" r="9"/></g>
<g id="n177" class="pu"><circle cx="153" cy="590" r="9.500"/></g>
<g id="n178" class="pu"><circle cx="164" cy="600" r="10.500"/></g>
<g id="n179" class="pu"><circle cx="211.500" cy="601" r="10"/></g>
<g id="n180" class="pu"><circle cx="293" cy="493" r="9.500"/></g>
<g id="n181" class="pu"><circle cx="311" cy="485" r="10"/></g>
<g id="n182" class="pu"><circle cx="340" cy="487" r="12"/></g>
<g id="n183" class="pu"><circle cx="391" cy="486" r="7.500"/></g>
<g id="n184" class="pu"><circle cx="366" cy="506" r="10"/></g>
<g id="n185" class="pu"><circle cx="263" cy="511" r="11.500"/></g>
<g id="n186" class="pu"><circle cx="285" cy="512" r="9.500"/></g>
<g id="n187" class="pu"><circle cx="309.500" cy="511" r="9"/></g>
<g id="n188" class="pu"><circle cx="278" cy="525" r="10"/></g>
<g id="n189" class="pu"><circle cx="247.500" cy="533" r="10"/></g>
<g id="n190" class="pu"><circle cx="323" cy="528" r="11"/></g>
<g id="n191" class="pu"><circle cx="342" cy="527" r="12"/></g>
<g id="n192" class="pu"><circle cx="372" cy="530" r="12.500"/></g>
<g id="n193" class="pu"><circle cx="265.500" cy="545" r="11"/></g>
<g id="n194" class="pu"><circle cx="310" cy="547" r="9.500"/></g>
<g id="n195" class="pu"><circle cx="295" cy="555" r="10"/></g>
<g id="n196" class="pu"><circle cx="328" cy="556" r="13.500"/></g>
<g id="n197" class="pu"><circle cx="370" cy="552" r="12"/></g>
<g id="n198" class="pu"><circle cx="246" cy="561" r="10.500"/></g>
<g id="n199" class="pu"><circle cx="388" cy="560" r="12"/></g>
<g id="n200" class="pu"><circle cx="262" cy="567" r="9"/></g>
<g id="n201" class="pu"><circle cx="275.500" cy="567" r="12"/></g>
<g id="n202" class="pu"><circle cx="370" cy="576" r="11"/></g>
<g id="n203" class="pu"><circle cx="337" cy="577" r="11"/></g>
<g id="n204" class="pu"><circle cx="252" cy="584" r="9"/></g>
<g id="n205" class="pu"><circle cx="293" cy="585" r="11.500"/></g>
<g id="n206" class="pu"><circle cx="270.500" cy="595" r="10"/></g>
<g id="n207" class="pu"><circle cx="314.500" cy="597" r="8.500"/></g>
<g id="n208" class="pu"><circle cx="287" cy="604" r="8.500"/></g>
<g id="n209" class="pu"><circle cx="342" cy="599" r="10.500"/></g>
<g id="n210" class="pu"><circle cx="301" cy="607" r="9.500"/></g>
<g id="n211" class="lo"><circle cx="361.600" cy="604" r="8.500"/></g>
<g id="n212" class="pu"><circle cx="248" cy="616" r="12"/></g>
<g id="n213" class="pu"><circle cx="191.600" cy="625" r="8.500"/></g>
<g id="n214" class="pu"><circle cx="307.600" cy="625" r="8"/></g>
<g id="n215" class="pu"><circle cx="365.400" cy="636" r="9.500"/></g>
<g id="n216" class="pu"><circle cx="340" cy="642" r="10"/></g>
<g id="n217" class="pu"><circle cx="400.600" cy="645" r="11"/></g>
<g id="n218" class="pu"><circle cx="307.600" cy="649" r="10"/></g>
<g id="n219" class="pu"><circle cx="355" cy="653" r="9"/></g>
<g id="n220" class="pu"><circle cx="232" cy="677" r="9"/></g>
<g id="n221" class="pu"><circle cx="194" cy="682" r="8.500"/></g>
<g id="n222" class="pu"><circle cx="205" cy="693" r="10"/></g>
<g id="n223" class="pu"><circle cx="257.500" cy="701" r="9"/></g>
<g id="n224" class="pu"><circle cx="247" cy="692" r="9.500"/></g>
<g id="n225" class="pu"><circle cx="322" cy="721" r="8.500"/></g>
<g id="n226" class="pu"><circle cx="539" cy="748" r="7.500"/></g>
<g id="n227" class="yo"><circle cx="138.500" cy="632" r="4.500"/></g>
<g id="n228" class="lo"><circle cx="140.400" cy="647" r="9"/></g>
<g id="n229" class="te"><circle cx="186.700" cy="644" r="8.500"/></g>
<g id="n230" class="lo"><circle cx="197" cy="656" r="7"/></g>
<g id="n231" class="te"><circle cx="144" cy="679" r="6"/></g>
<g id="n232" class="yo"><circle cx="260" cy="726" r="5.500"/></g>
<g id="n233" class="bl"><circle cx="238" cy="649" r="11.500"/></g>
<g id="n234" class="ol"><circle cx="294.600" cy="682" r="8.500"/></g>
<g id="n235" class="cy"><circle cx="320" cy="688" r="9.500"/></g>
<g id="n236" class="pk"><circle cx="338" cy="692" r="8.500"/></g>
<g id="n237" class="tu"><circle cx="299.600" cy="709" r="9.500"/></g>
<g id="n238" class="tu"><circle cx="332" cy="740" r="8.500"/></g>
<g id="n239" class="ol"><circle cx="322" cy="788" r="10.500"/></g>
<g id="n240" class="bl"><circle cx="311" cy="459" r="5.500"/></g>
<g id="n241" class="bl"><circle cx="409" cy="434" r="11"/></g>
<g id="n242" class="bl"><circle cx="426" cy="452" r="12"/></g>
<g id="n243" class="bl"><circle cx="460" cy="450" r="11.500"/></g>
<g id="n244" class="bl"><circle cx="511" cy="428" r="10.500"/></g>
<g id="n245" class="bl"><circle cx="488" cy="429" r="8"/></g>
<g id="n246" class="bl"><circle cx="528" cy="425" r="8"/></g>
<g id="n247" class="ma"><circle cx="486" cy="479" r="9.500"/></g>
<g id="n248" class="bl"><circle cx="513" cy="453" r="12.500"/></g>
<g id="n249" class="bl"><circle cx="537" cy="457" r="11"/></g>
<g id="n250" class="bl"><circle cx="480" cy="462" r="11"/></g>
<g id="n251" class="bl"><circle cx="569" cy="468" r="10"/></g>
<g id="n252" class="bl"><circle cx="588" cy="463" r="11.500"/></g>
<g id="n253" class="bl"><circle cx="603" cy="451" r="9.500"/></g>
<g id="n254" class="bl"><circle cx="422" cy="490" r="11"/></g>
<g id="n255" class="bl"><circle cx="419" cy="474" r="11"/></g>
<g id="n256" class="bl"><circle cx="440" cy="476" r="11.500"/></g>
<g id="n257" class="bl"><circle cx="463" cy="477" r="11.500"/></g>
<g id="n258" class="bl"><circle cx="513" cy="486" r="12.500"/></g>
<g id="n259" class="bl"><circle cx="530" cy="492" r="11"/></g>
<g id="n260" class="bl"><circle cx="559" cy="487" r="10"/></g>
<g id="n261" class="bl"><circle cx="474" cy="496" r="11"/></g>
<g id="n262" class="bl"><circle cx="497" cy="498" r="11"/></g>
<g id="n263" class="bl"><circle cx="587" cy="498" r="9.500"/></g>
<g id="n264" class="bl"><circle cx="628" cy="475" r="8.500"/></g>
<g id="n265" class="mv"><circle cx="642.500" cy="468" r="9"/></g>
<g id="n266" class="bl"><circle cx="634" cy="497" r="11.500"/></g>
<g id="n267" class="bl"><circle cx="401" cy="510" r="11"/></g>
<g id="n268" class="bl"><circle cx="472" cy="516" r="12.500"/></g>
<g id="n269" class="bl"><circle cx="453" cy="509" r="12.500"/></g>
<g id="n270" class="bl"><circle cx="391" cy="525" r="9.500"/></g>
<g id="n271" class="bl"><circle cx="418" cy="527" r="11"/></g>
<g id="n272" class="bl"><circle cx="449" cy="535" r="9"/></g>
<g id="n273" class="bl"><circle cx="440" cy="522" r="11.500"/></g>
<g id="n274" class="bl"><circle cx="499" cy="532" r="12"/></g>
<g id="n275" class="bl"><circle cx="510" cy="524" r="12"/></g>
<g id="n276" class="bl"><circle cx="535" cy="531" r="12.500"/></g>
<g id="n277" class="bl"><circle cx="566" cy="525" r="12"/></g>
<g id="n278" class="bl"><circle cx="598" cy="516" r="11.500"/></g>
<g id="n279" class="bl"><circle cx="639" cy="537" r="10.500"/></g>
<g id="n280" class="bl"><circle cx="411" cy="554" r="9"/></g>
<g id="n281" class="bl"><circle cx="446" cy="552" r="12.500"/></g>
<g id="n282" class="bl"><circle cx="482" cy="555" r="13"/></g>
<g id="n283" class="bl"><circle cx="519" cy="545" r="11"/></g>
<g id="n284" class="bl"><circle cx="455" cy="569" r="14"/></g>
<g id="n285" class="bl"><circle cx="407" cy="574" r="11.500"/></g>
<g id="n286" class="bl"><circle cx="466" cy="583" r="9"/></g>
<g id="n287" class="bl"><circle cx="502" cy="573" r="10"/></g>
<g id="n288" class="bl"><circle cx="518" cy="574" r="10.500"/></g>
<g id="n289" class="bl"><circle cx="530" cy="565" r="11"/></g>
<g id="n290" class="bl"><circle cx="561" cy="564" r="12"/></g>
<g id="n291" class="bl"><circle cx="482" cy="588" r="8"/></g>
<g id="n292" class="bl"><circle cx="581" cy="597" r="11"/></g>
<g id="n293" class="bl"><circle cx="574" cy="584" r="10.500"/></g>
<g id="n294" class="na"><circle cx="589" cy="573" r="10.500"/></g>
<g id="n295" class="bl"><circle cx="608" cy="577" r="9"/></g>
<g id="n296" class="bl"><circle cx="634" cy="579" r="10"/></g>
<g id="n297" class="bl"><circle cx="439" cy="589" r="12"/></g>
<g id="n298" class="bl"><circle cx="411" cy="592" r="8"/></g>
<g id="n299" class="bl"><circle cx="543" cy="591" r="12"/></g>
<g id="n300" class="bl"><circle cx="504" cy="597" r="11.500"/></g>
<g id="n301" class="bl"><circle cx="463" cy="603" r="8"/></g>
<g id="n302" class="bl"><circle cx="429" cy="607" r="11"/></g>
<g id="n303" class="bl"><circle cx="531" cy="607" r="11.500"/></g>
<g id="n304" class="bl"><circle cx="563" cy="609" r="11.500"/></g>
<g id="n305" class="bl"><circle cx="626" cy="608" r="10"/></g>
<g id="n306" class="bl"><circle cx="611" cy="617" r="11"/></g>
<g id="n307" class="bl"><circle cx="396" cy="623" r="8"/></g>
<g id="n308" class="bl"><circle cx="586" cy="629" r="10"/></g>
<g id="n309" class="bl"><circle cx="413" cy="635" r="9"/></g>
<g id="n310" class="ol"><circle cx="460" cy="647" r="10"/></g>
<g id="n311" class="bl"><circle cx="431" cy="646" r="13"/></g>
<g id="n312" class="bl"><circle cx="560" cy="643" r="9"/></g>
<g id="n313" class="bl"><circle cx="506" cy="643" r="8"/></g>
<g id="n314" class="bl"><circle cx="386" cy="650" r="7.500"/></g>
<g id="n315" class="bl"><circle cx="452" cy="657" r="8"/></g>
<g id="n316" class="pk"><circle cx="508" cy="666" r="11.500"/></g>
<g id="n317" class="bl"><circle cx="485" cy="668" r="12"/></g>
<g id="n318" class="bl"><circle cx="496" cy="654" r="8"/></g>
<g id="n319" class="bl"><circle cx="530" cy="654" r="10"/></g>
<g id="n320" class="bl"><circle cx="590" cy="657" r="9.500"/></g>
<g id="n321" class="bl"><circle cx="571" cy="662" r="10"/></g>
<g id="n322" class="bl"><circle cx="544" cy="667" r="10"/></g>
<g id="n323" class="bl"><circle cx="378" cy="676" r="13"/></g>
<g id="n324" class="bl"><circle cx="402" cy="677" r="10"/></g>
<g id="n325" class="bl"><circle cx="438" cy="670" r="9"/></g>
<g id="n326" class="bl"><circle cx="610" cy="676" r="7.500"/></g>
<g id="n327" class="bl"><circle cx="428" cy="691" r="9.500"/></g>
<g id="n328" class="pk"><circle cx="502" cy="685" r="11"/></g>
<g id="n329" class="bl"><circle cx="530" cy="688" r="10"/></g>
<g id="n330" class="bl"><circle cx="580" cy="695" r="10"/></g>
<g id="n331" class="bl"><circle cx="355" cy="708" r="11.500"/></g>
<g id="n332" class="bl"><circle cx="385" cy="702" r="12.500"/></g>
<g id="n333" class="bl"><circle cx="474" cy="706" r="10"/></g>
<g id="n334" class="ol"><circle cx="494" cy="706" r="9.500"/></g>
<g id="n335" class="bl"><circle cx="511" cy="703" r="7"/></g>
<g id="n336" class="bl"><circle cx="486" cy="726" r="9"/></g>
<g id="n337" class="bl"><circle cx="366" cy="732" r="9.500"/></g>
<g id="n338" class="bl"><circle cx="407" cy="742" r="11.500"/></g>
<g id="n339" class="bl"><circle cx="381" cy="753" r="9"/></g>
<g id="n340" class="bl"><circle cx="362" cy="758" r="11.500"/></g>
<g id="n341" class="tu"><circle cx="457" cy="689" r="9.500"/></g>
<g id="n342" class="dk"><circle cx="457.600" cy="720" r="7"/></g>
<g id="n343" class="dk"><circle cx="457.600" cy="747" r="8"/></g>
<g id="n344" class="dk"><circle cx="442" cy="780" r="5"/></g>
<g id="n345" class="dk"><circle cx="465.600" cy="791" r="5.500"/></g>
<g id="n346" class="dk"><circle cx="438.500" cy="820" r="6"/></g>
<g id="n347" class="ol"><circle cx="536" cy="720" r="7"/></g>
<g id="n348" class="nb"><circle cx="501" cy="751" r="6.500"/></g>
<g id="n349" class="lo"><circle cx="523" cy="747" r="7.500"/></g>
<g id="n350" class="lo"><circle cx="553.700" cy="770" r="8.500"/></g>
<g id="n351" class="pk"><circle cx="571.700" cy="733" r="8.500"/></g>
<g id="n352" class="ol"><circle cx="600" cy="708" r="11"/></g>
<g id="n353" class="pe"><circle cx="624.500" cy="643" r="10.500"/></g>
<g id="n354" class="pe"><circle cx="617" cy="689" r="8.500"/></g>
<g id="n355" class="pe"><circle cx="628" cy="712" r="9.500"/></g>
<g id="n356" class="pe"><circle cx="650" cy="707" r="6.500"/></g>
<g id="n357" class="ol"><circle cx="640" cy="724" r="8"/></g>
<g id="n358" class="dp"><circle cx="638.600" cy="692" r="6.500"/></g>
<g id="n359" class="dp"><circle cx="641.700" cy="754" r="6"/></g>
<g id="n360" class="yg"><circle cx="657.600" cy="738" r="7"/></g>
<g id="n361" class="nt"><circle cx="648.500" cy="674" r="8.500"/></g>
<g id="n362" class="ol"><circle cx="662.600" cy="670" r="7.500"/></g>
<g id="n363" class="ma"><circle cx="686" cy="687" r="7.500"/></g>
<g id="n364" class="dg"><circle cx="712" cy="717" r="11"/></g>
<g id="n365" class="ma"><circle cx="723.800" cy="708" r="5"/></g>
<g id="n366" class="pu"><circle cx="676.700" cy="709" r="10.500"/></g>
<g id="n367" class="ol"><circle cx="698.500" cy="718" r="10"/></g>
<g id="n368" class="dg"><circle cx="701.600" cy="683" r="8.500"/></g>
<g id="n369" class="nt"><circle cx="675" cy="743" r="7"/></g>
<g id="n370" class="bl"><circle cx="691" cy="740" r="12"/></g>
<g id="n371" class="bk"><circle cx="646" cy="187" r="3"/></g>
<g id="n372" class="bk"><circle cx="650" cy="246" r="3"/></g>
<g id="n373" class="bk"><circle cx="654" cy="293" r="7.500"/></g>
<g id="n374" class="na"><circle cx="693" cy="248" r="4.500"/></g>
<g id="n375" class="ol"><circle cx="693.600" cy="305" r="5"/></g>
<g id="n376" class="mv"><circle cx="682.600" cy="349" r="8.500"/></g>
<g id="n377" class="mv"><circle cx="659.600" cy="370" r="8.500"/></g>
<g id="n378" class="ma"><circle cx="680.600" cy="377" r="10"/></g>
<g id="n379" class="ma"><circle cx="706.500" cy="395" r="8"/></g>
<g id="n380" class="ma"><circle cx="674.600" cy="407" r="9.500"/></g>
<g id="n381" class="ma"><circle cx="689" cy="414" r="8.500"/></g>
<g id="n382" class="ma"><circle cx="668.500" cy="445" r="10"/></g>
<g id="n383" class="ma"><circle cx="729" cy="340" r="6"/></g>
<g id="n384" class="ma"><circle cx="734.600" cy="369" r="8"/></g>
<g id="n385" class="db"><circle cx="746" cy="283" r="7"/></g>
<g id="n386" class="ol"><circle cx="746.600" cy="322" r="6.500"/></g>
<g id="n387" class="ye"><circle cx="790.800" cy="218" r="5.500"/></g>
<g id="n388" class="dp"><circle cx="791" cy="251" r="7"/></g>
<g id="n389" class="dp"><circle cx="791" cy="284" r="7"/></g>
<g id="n390" class="dp"><circle cx="763" cy="297" r="8"/></g>
<g id="n391" class="dp"><circle cx="778" cy="306" r="8.500"/></g>
<g id="n392" class="ma"><circle cx="763.600" cy="331" r="8"/></g>
<g id="n393" class="dp"><circle cx="782" cy="333" r="9.500"/></g>
<g id="n394" class="pe"><circle cx="795" cy="343" r="6"/></g>
<g id="n395" class="re"><circle cx="810" cy="347" r="10"/></g>
<g id="n396" class="pe"><circle cx="826" cy="375" r="7.500"/></g>
<g id="n397" class="yg"><circle cx="845.500" cy="372" r="8"/></g>
<g id="n398" class="ol"><circle cx="825" cy="241" r="7"/></g>
<g id="n399" class="pe"><circle cx="810.600" cy="269" r="5.500"/></g>
<g id="n400" class="db"><circle cx="854" cy="251" r="7"/></g>
<g id="n401" class="db"><circle cx="840.600" cy="267" r="5"/></g>
<g id="n402" class="bl"><circle cx="881" cy="249" r="6"/></g>
<g id="n403" class="na"><circle cx="871" cy="253" r="7"/></g>
<g id="n404" class="db"><circle cx="861.700" cy="289" r="7"/></g>
<g id="n405" class="yg"><circle cx="842" cy="302" r="6.500"/></g>
<g id="n406" class="ma"><circle cx="843.900" cy="333" r="6"/></g>
<g id="n407" class="db"><circle cx="867.700" cy="329" r="6.500"/></g>
<g id="n408" class="pe"><circle cx="855.600" cy="348" r="5.500"/></g>
<g id="n409" class="re"><circle cx="875" cy="300" r="4"/></g>
<g id="n410" class="ro"><circle cx="885" cy="300" r="6"/></g>
<g id="n411" class="ta"><circle cx="897.700" cy="295" r="5.500"/></g>
<g id="n412" class="lo"><circle cx="908.600" cy="293" r="5"/></g>
<g id="n413" class="re"><circle cx="903.400" cy="327" r="5"/></g>
<g id="n414" class="re"><circle cx="887.600" cy="354" r="3.500"/></g>
<g id="n415" class="re"><circle cx="900.500" cy="362" r="4"/></g>
<g id="n416" class="ta"><circle cx="915" cy="343" r="6"/></g>
<g id="n417" class="yg"><circle cx="925.600" cy="203" r="4.500"/></g>
<g id="n418" class="yg"><circle cx="927" cy="257" r="5.500"/></g>
<g id="n419" class="yg"><circle cx="916" cy="268" r="4.500"/></g>
<g id="n420" class="yg"><circle cx="938.600" cy="267" r="4.500"/></g>
<g id="n421" class="dp"><circle cx="928" cy="295" r="5"/></g>
<g id="n422" class="ol"><circle cx="948.300" cy="281" r="6"/></g>
<g id="n423" class="mb"><circle cx="960" cy="278" r="7"/></g>
<g id="n424" class="re"><circle cx="948.300" cy="311" r="6.500"/></g>
<g id="n425" class="ol"><circle cx="963.300" cy="315" r="6"/></g>
<g id="n426" class="ol"><circle cx="989.700" cy="304" r="3.500"/></g>
<g id="n427" class="lo"><circle cx="965" cy="349" r="6.500"/></g>
<g id="n428" class="ru"><circle cx="981.500" cy="341" r="5.500"/></g>
<g id="n429" class="ta"><circle cx="996" cy="331" r="6"/></g>
<g id="n430" class="ta"><circle cx="1018.400" cy="325" r="5"/></g>
<g id="n431" class="ta"><circle cx="1004.600" cy="346" r="4.500"/></g>
<g id="n432" class="ta"><circle cx="1033" cy="354" r="6"/></g>
<g id="n433" class="ta"><circle cx="980" cy="362" r="6"/></g>
<g id="n434" class="ta"><circle cx="945.500" cy="364" r="7"/></g>
<g id="n435" class="ta"><circle cx="928.500" cy="364" r="6.500"/></g>
<g id="n436" class="ta"><circle cx="910.700" cy="381" r="6.500"/></g>
<g id="n437" class="ta"><circle cx="952" cy="384" r="7.500"/></g>
<g id="n438" class="ta"><circle cx="979.500" cy="384" r="6.500"/></g>
<g id="n439" class="ta"><circle cx="1010" cy="384" r="6.500"/></g>
<g id="n440" class="ta"><circle cx="921" cy="405" r="7.500"/></g>
<g id="n441" class="ta"><circle cx="942" cy="416" r="6.500"/></g>
<g id="n442" class="ta"><circle cx="982.800" cy="415" r="6"/></g>
<g id="n443" class="ta"><circle cx="933.400" cy="434" r="7"/></g>
<g id="n444" class="ta"><circle cx="957" cy="436" r="6.500"/></g>
<g id="n445" class="ta"><circle cx="923.600" cy="475" r="9.500"/></g>
<g id="n446" class="nb"><circle cx="972" cy="153" r="5"/></g>
<g id="n447" class="nb"><circle cx="1002" cy="174" r="6"/></g>
<g id="n448" class="pe"><circle cx="983" cy="183" r="5"/></g>
<g id="n449" class="nb"><circle cx="1016.400" cy="201" r="5.500"/></g>
<g id="n450" class="nb"><circle cx="994" cy="211" r="6"/></g>
<g id="n451" class="nb"><circle cx="998.600" cy="235" r="3.500"/></g>
<g id="n452" class="nb"><circle cx="983" cy="237" r="3.500"/></g>
<g id="n453" class="nb"><circle cx="973" cy="249" r="6.500"/></g>
<g id="n454" class="nb"><circle cx="1007.500" cy="252" r="3.500"/></g>
<g id="n455" class="nb"><circle cx="988.400" cy="258" r="3.500"/></g>
<g id="n456" class="nb"><circle cx="974" cy="273" r="5"/></g>
<g id="n457" class="nb"><circle cx="992.500" cy="282" r="3.500"/></g>
<g id="n458" class="lo"><circle cx="961" cy="222" r="7"/></g>
<g id="n459" class="ol"><circle cx="1023.700" cy="242" r="6"/></g>
<g id="n460" class="lo"><circle cx="1042" cy="243" r="6"/></g>
<g id="n461" class="lo"><circle cx="1050" cy="271" r="5"/></g>
<g id="n462" class="ru"><circle cx="1056" cy="333" r="6"/></g>
<g id="n463" class="ta"><circle cx="1068.600" cy="252" r="4.500"/></g>
<g id="n464" class="yg"><circle cx="1070" cy="207" r="6.500"/></g>
<g id="n465" class="lo"><circle cx="1083" cy="226" r="5.500"/></g>
<g id="n466" class="ol"><circle cx="1091" cy="205" r="6.500"/></g>
<g id="n467" class="go"><circle cx="1087.700" cy="187" r="5.500"/></g>
<g id="n468" class="go"><circle cx="1060" cy="176" r="6"/></g>
<g id="n469" class="go"><circle cx="1041" cy="165" r="5"/></g>
<g id="n470" class="go"><circle cx="1080.400" cy="168" r="7"/></g>
<g id="n471" class="lo"><circle cx="1093.800" cy="161" r="5"/></g>
<g id="n472" class="lo"><circle cx="1102" cy="143" r="4.500"/></g>
<g id="n473" class="ta"><circle cx="1076" cy="147" r="7"/></g>
<g id="n474" class="lo"><circle cx="1043.500" cy="127" r="6"/></g>
<g id="n475" class="pe"><circle cx="1090" cy="125" r="4"/></g>
<g id="n476" class="pe"><circle cx="1105" cy="100" r="4"/></g>
<g id="n477" class="yg"><circle cx="1143" cy="128" r="5.500"/></g>
<g id="n478" class="ta"><circle cx="1125.400" cy="151" r="8.500"/></g>
<g id="n479" class="ta"><circle cx="1113" cy="168" r="6"/></g>
<g id="n480" class="yg"><circle cx="1103" cy="182" r="7"/></g>
<g id="n481" class="oa"><circle cx="1146" cy="169" r="3.500"/></g>
<g id="n482" class="oa"><circle cx="1131" cy="179" r="4"/></g>
<g id="n483" class="oa"><circle cx="1109.600" cy="199" r="3.500"/></g>
<g id="n484" class="lo"><circle cx="1144.800" cy="197" r="4"/></g>
<g id="n485" class="yg"><circle cx="1130.600" cy="218" r="4.500"/></g>
<g id="n486" class="yg"><circle cx="1149.600" cy="214" r="4.500"/></g>
<g id="n487" class="lo"><circle cx="1114.800" cy="227" r="3.500"/></g>
<g id="n488" class="yg"><circle cx="1093" cy="243" r="4"/></g>
<g id="n489" class="yg"><circle cx="1096.600" cy="273" r="6"/></g>
<g id="n490" class="gb"><circle cx="1199.500" cy="167" r="5.500"/></g>
<g id="n491" class="gb"><circle cx="1179.600" cy="194" r="5"/></g>
<g id="n492" class="ro"><circle cx="1194" cy="213" r="5.500"/></g>
<g id="n493" class="gb"><circle cx="1161" cy="229" r="4"/></g>
<g id="n494" class="gb"><circle cx="1211" cy="231" r="5.500"/></g>
<g id="n495" class="gb"><circle cx="1237.500" cy="224" r="5"/></g>
<g id="n496" class="gb"><circle cx="1138" cy="247" r="5"/></g>
<g id="n497" class="gb"><circle cx="1156.500" cy="253" r="4.500"/></g>
<g id="n498" class="gb"><circle cx="1172.300" cy="266" r="4.500"/></g>
<g id="n499" class="gb"><circle cx="1139.500" cy="273" r="4.500"/></g>
<g id="n500" class="gb"><circle cx="1157.300" cy="282" r="3.500"/></g>
<g id="n501" class="ru"><circle cx="1200.300" cy="290" r="3.500"/></g>
<g id="n502" class="ru"><circle cx="1236.700" cy="281" r="3.500"/></g>
<g id="n503" class="gb"><circle cx="1097.800" cy="303" r="3.500"/></g>
<g id="n504" class="yo"><circle cx="1113" cy="311" r="6"/></g>
<g id="n505" class="yg"><circle cx="1162.600" cy="306" r="5"/></g>
<g id="n506" class="yg"><circle cx="1150" cy="325" r="3.500"/></g>
<g id="n507" class="re"><circle cx="1097.400" cy="341" r="5"/></g>
<g id="n508" class="yo"><circle cx="1116.400" cy="340" r="4.500"/></g>
<g id="n509" class="gr"><circle cx="1123" cy="370" r="6"/></g>
<g id="n510" class="ye"><circle cx="1191.800" cy="376" r="4.500"/></g>
<g id="n511" class="ye"><circle cx="1164" cy="398" r="3.500"/></g>
<g id="n512" class="ye"><circle cx="1191.400" cy="408" r="4.500"/></g>
<g id="n513" class="py"><circle cx="1138" cy="405" r="4"/></g>
<g id="n514" class="yg"><circle cx="1177.600" cy="420" r="4.500"/></g>
<g id="n515" class="yg"><circle cx="1033" cy="369" r="4.500"/></g>
<g id="n516" class="yg"><circle cx="1035.400" cy="388" r="5.500"/></g>
<g id="n517" class="gr"><circle cx="1062.600" cy="385" r="6"/></g>
<g id="n518" class="gr"><circle cx="1090" cy="383" r="5"/></g>
<g id="n519" class="gr"><circle cx="1025" cy="400" r="7"/></g>
<g id="n520" class="gr"><circle cx="1049.600" cy="401" r="7"/></g>
<g id="n521" class="gr"><circle cx="1079.600" cy="400" r="4.500"/></g>
<g id="n522" class="gr"><circle cx="1095" cy="405" r="6"/></g>
<g id="n523" class="gr"><circle cx="1010" cy="412" r="6.500"/></g>
<g id="n524" class="gr"><circle cx="1108.700" cy="420" r="7.500"/></g>
<g id="n525" class="gr"><circle cx="1041.500" cy="420" r="6.500"/></g>
<g id="n526" class="gr"><circle cx="1066.600" cy="427" r="7"/></g>
<g id="n527" class="gr"><circle cx="1003" cy="441" r="5.500"/></g>
<g id="n528" class="gr"><circle cx="1123.300" cy="441" r="5.500"/></g>
<g id="n529" class="gr"><circle cx="1045" cy="443" r="6.500"/></g>
<g id="n530" class="gr"><circle cx="1082.400" cy="438" r="7"/></g>
<g id="n531" class="gr"><circle cx="985" cy="452" r="6.500"/></g>
<g id="n532" class="gr"><circle cx="1098.500" cy="455" r="7"/></g>
<g id="n533" class="gr"><circle cx="1017" cy="459" r="7.500"/></g>
<g id="n534" class="gr"><circle cx="1138.700" cy="457" r="8.500"/></g>
<g id="n535" class="gr"><circle cx="1033" cy="466" r="7"/></g>
<g id="n536" class="gr"><circle cx="1059" cy="467" r="6"/></g>
<g id="n537" class="gr"><circle cx="1007.400" cy="478" r="6"/></g>
<g id="n538" class="gr"><circle cx="1016.600" cy="486" r="7"/></g>
<g id="n539" class="gr"><circle cx="1050" cy="483" r="6.500"/></g>
<g id="n540" class="gr"><circle cx="1070.500" cy="478" r="6.500"/></g>
<g id="n541" class="gr"><circle cx="1091" cy="478" r="6"/></g>
<g id="n542" class="gr"><circle cx="1107.700" cy="485" r="6.500"/></g>
<g id="n543" class="gr"><circle cx="1130" cy="495" r="8"/></g>
<g id="n544" class="gr"><circle cx="1166.600" cy="495" r="7.500"/></g>
<g id="n545" class="gr"><circle cx="1013.500" cy="500" r="8"/></g>
<g id="n546" class="gr"><circle cx="1039.500" cy="507" r="7"/></g>
<g id="n547" class="gr"><circle cx="1071" cy="503" r="6.500"/></g>
<g id="n548" class="gr"><circle cx="1094.600" cy="511" r="7.500"/></g>
<g id="n549" class="gr"><circle cx="1064.400" cy="521" r="5.500"/></g>
<g id="n550" class="yg"><circle cx="1126" cy="528" r="6"/></g>
<g id="n551" class="gr"><circle cx="1087.800" cy="529" r="6.500"/></g>
<g id="n552" class="ol"><circle cx="1034" cy="533" r="6.500"/></g>
<g id="n553" class="ol"><circle cx="1002.400" cy="538" r="8"/></g>
<g id="n554" class="tu"><circle cx="964.500" cy="530" r="8.500"/></g>
<g id="n555" class="gr"><circle cx="1079.400" cy="544" r="8"/></g>
<g id="n556" class="gr"><circle cx="1144.400" cy="552" r="5.500"/></g>
<g id="n557" class="gr"><circle cx="1115.300" cy="558" r="8"/></g>
<g id="n558" class="dg"><circle cx="1047.600" cy="561" r="6.500"/></g>
<g id="n559" class="dg"><circle cx="1065" cy="563" r="5"/></g>
<g id="n560" class="dg"><circle cx="980" cy="571" r="8"/></g>
<g id="n561" class="gr"><circle cx="1096.600" cy="573" r="8"/></g>
<g id="n562" class="pk"><circle cx="1125" cy="574" r="7"/></g>
<g id="n563" class="dg"><circle cx="1078" cy="594" r="6"/></g>
<g id="n564" class="gr"><circle cx="1089.700" cy="591" r="8"/></g>
<g id="n565" class="gr"><circle cx="1126.400" cy="599" r="7"/></g>
<g id="n566" class="dg"><circle cx="1019" cy="599" r="8"/></g>
<g id="n567" class="dg"><circle cx="1049" cy="603" r="8.500"/></g>
<g id="n568" class="pk"><circle cx="1113.800" cy="612" r="7.500"/></g>
<g id="n569" class="pk"><circle cx="1086.600" cy="623" r="7"/></g>
<g id="n570" class="dg"><circle cx="1014" cy="626" r="5.500"/></g>
<g id="n571" class="dg"><circle cx="995" cy="631" r="4.500"/></g>
<g id="n572" class="dg"><circle cx="1073" cy="630" r="8"/></g>
<g id="n573" class="ru"><circle cx="1136.700" cy="631" r="5.500"/></g>
<g id="n574" class="dg"><circle cx="1035.700" cy="648" r="8.500"/></g>
<g id="n575" class="dg"><circle cx="1118.700" cy="649" r="6.500"/></g>
<g id="n576" class="dg"><circle cx="1140" cy="659" r="6.500"/></g>
<g id="n577" class="pk"><circle cx="1118" cy="670" r="7"/></g>
<g id="n578" class="dg"><circle cx="1060" cy="674" r="7.500"/></g>
<g id="n579" class="dg"><circle cx="1084.700" cy="677" r="9"/></g>
<g id="n580" class="dg"><circle cx="1020.800" cy="680" r="5"/></g>
<g id="n581" class="dg"><circle cx="1056.400" cy="693" r="6.500"/></g>
<g id="n582" class="ru"><circle cx="1082.400" cy="696" r="6.500"/></g>
<g id="n583" class="pk"><circle cx="1151" cy="688" r="6"/></g>
<g id="n584" class="dg"><circle cx="1122.600" cy="699" r="6.500"/></g>
<g id="n585" class="dg"><circle cx="1171.600" cy="708" r="11.500"/></g>
<g id="n586" class="gr"><circle cx="1138.700" cy="702" r="8.500"/></g>
<g id="n587" class="dg"><circle cx="1104" cy="711" r="6.500"/></g>
<g id="n588" class="ta"><circle cx="1126.400" cy="720" r="4.500"/></g>
<g id="n589" class="dg"><circle cx="1136.700" cy="718" r="6.500"/></g>
<g id="n590" class="dg"><circle cx="1151" cy="720" r="7.500"/></g>
<g id="n591" class="dg"><circle cx="1110" cy="728" r="8.500"/></g>
<g id="n592" class="yg"><circle cx="1071.700" cy="731" r="6"/></g>
<g id="n593" class="dg"><circle cx="1174" cy="738" r="6.500"/></g>
<g id="n594" class="dg"><circle cx="1167" cy="746" r="4.500"/></g>
<g id="n595" class="ol"><circle cx="1155" cy="746" r="10"/></g>
<g id="n596" class="pk"><circle cx="1174" cy="725" r="11"/></g>
<g id="n597" class="dg"><circle cx="1116.500" cy="754" r="7"/></g>
<g id="n598" class="py"><circle cx="1005" cy="685" r="3.500"/></g>
<g id="n599" class="py"><circle cx="1009" cy="711" r="4"/></g>
<g id="n600" class="py"><circle cx="1037.600" cy="713" r="3.500"/></g>
<g id="n601" class="py"><circle cx="991" cy="725" r="3.500"/></g>
<g id="n602" class="py"><circle cx="1004" cy="740" r="3.500"/></g>
<g id="n603" class="py"><circle cx="1018.500" cy="740" r="4.500"/></g>
<g id="n604" class="py"><circle cx="1040" cy="736" r="3.500"/></g>
<g id="n605" class="py"><circle cx="969.500" cy="749" r="3.500"/></g>
<g id="n606" class="py"><circle cx="1048" cy="754" r="3.500"/></g>
<g id="n607" class="yo"><circle cx="993" cy="761" r="4.500"/></g>
<g id="n608" class="py"><circle cx="1011" cy="767" r="4.500"/></g>
<g id="n609" class="py"><circle cx="1035" cy="769" r="4"/></g>
<g id="n610" class="py"><circle cx="1062.500" cy="771" r="4.500"/></g>
<g id="n611" class="py"><circle cx="1050.600" cy="779" r="3.500"/></g>
<g id="n612" class="ro"><circle cx="981.400" cy="782" r="5.500"/></g>
<g id="n613" class="py"><circle cx="1066" cy="791" r="3"/></g>
<g id="n614" class="py"><circle cx="1037" cy="797" r="4"/></g>
<g id="n615" class="py"><circle cx="1054.500" cy="799" r="3"/></g>
<g id="n616" class="py"><circle cx="1002" cy="793" r="6.500"/></g>
<g id="n617" class="dg"><circle cx="896" cy="816" r="7"/></g>
<g id="n618" class="dp"><circle cx="920.500" cy="780" r="7.500"/></g>
<g id="n619" class="dp"><circle cx="905" cy="793" r="6"/></g>
<g id="n620" class="dp"><circle cx="944.600" cy="798" r="6"/></g>
<g id="n621" class="ol"><circle cx="875.400" cy="764" r="10"/></g>
<g id="n622" class="nt"><circle cx="907" cy="759" r="12"/></g>
<g id="n623" class="te"><circle cx="890" cy="759" r="9.500"/></g>
<g id="n624" class="re"><circle cx="883" cy="707" r="8"/></g>
<g id="n625" class="lo"><circle cx="903.700" cy="706" r="5.500"/></g>
<g id="n626" class="lo"><circle cx="940.400" cy="715" r="7"/></g>
<g id="n627" class="ol"><circle cx="934" cy="697" r="10"/></g>
<g id="n628" class="pe"><circle cx="925.500" cy="668" r="7.500"/></g>
<g id="n629" class="re"><circle cx="892" cy="667" r="4"/></g>
<g id="n630" class="re"><circle cx="864.600" cy="650" r="7"/></g>
<g id="n631" class="pe"><circle cx="939" cy="648" r="5.500"/></g>
<g id="n632" class="pe"><circle cx="893" cy="634" r="6.500"/></g>
<g id="n633" class="pe"><circle cx="954.600" cy="629" r="6.500"/></g>
<g id="n634" class="pe"><circle cx="925" cy="625" r="7"/></g>
<g id="n635" class="pe"><circle cx="905" cy="621" r="6"/></g>
<g id="n636" class="pe"><circle cx="887" cy="608" r="6.500"/></g>
<g id="n637" class="tu"><circle cx="937" cy="606" r="9"/></g>
<g id="n638" class="ol"><circle cx="922" cy="587" r="8"/></g>
<g id="n639" class="lo"><circle cx="903" cy="586" r="6.500"/></g>
<g id="n640" class="ru"><circle cx="890.700" cy="594" r="6.500"/></g>
<g id="n641" class="ye"><circle cx="872" cy="626" r="6"/></g>
<g id="n642" class="pk"><circle cx="969" cy="593" r="8.500"/></g>
<g id="n643" class="dg"><circle cx="937" cy="578" r="8.500"/></g>
<g id="n644" class="dg"><circle cx="910.600" cy="557" r="8.500"/></g>
<g id="n645" class="nt"><circle cx="853" cy="566" r="6.500"/></g>
<g id="n646" class="re"><circle cx="839" cy="586" r="6"/></g>
<g id="n647" class="re"><circle cx="841.700" cy="618" r="8"/></g>
<g id="n648" class="ol"><circle cx="859" cy="666" r="7.500"/></g>
<g id="n649" class="ru"><circle cx="841.300" cy="668" r="5"/></g>
<g id="n650" class="re"><circle cx="855" cy="698" r="7"/></g>
<g id="n651" class="mv"><circle cx="829.400" cy="600" r="6"/></g>
<g id="n652" class="nb"><circle cx="805.700" cy="618" r="7"/></g>
<g id="n653" class="tu"><circle cx="818.700" cy="606" r="11"/></g>
<g id="n654" class="dp"><circle cx="833" cy="634" r="5"/></g>
<g id="n655" class="ro"><circle cx="782.700" cy="598" r="6.500"/></g>
<g id="n656" class="ro"><circle cx="792" cy="628" r="7"/></g>
<g id="n657" class="ro"><circle cx="801.500" cy="663" r="7"/></g>
<g id="n658" class="nb"><circle cx="815" cy="662" r="6.500"/></g>
<g id="n659" class="tu"><circle cx="829.400" cy="652" r="11"/></g>
<g id="n660" class="sl"><circle cx="827" cy="677" r="7.500"/></g>
<g id="n661" class="ro"><circle cx="813.700" cy="695" r="6.500"/></g>
<g id="n662" class="sl"><circle cx="829" cy="705" r="5.500"/></g>
<g id="n663" class="sl"><circle cx="840" cy="704" r="5"/></g>
<g id="n664" class="ro"><circle cx="823.300" cy="727" r="4.500"/></g>
<g id="n665" class="sl"><circle cx="832" cy="726" r="5"/></g>
<g id="n666" class="sl"><circle cx="862" cy="729" r="4"/></g>
<g id="n667" class="sl"><circle cx="839.400" cy="748" r="5"/></g>
<g id="n668" class="sl"><circle cx="856" cy="746" r="5"/></g>
<g id="n669" class="lo"><circle cx="846" cy="769" r="3.500"/></g>
<g id="n670" class="yo"><circle cx="749" cy="579" r="8"/></g>
<g id="n671" class="dg"><circle cx="772.400" cy="590" r="9"/></g>
<g id="n672" class="ol"><circle cx="752.500" cy="609" r="7"/></g>
<g id="n673" class="yo"><circle cx="764" cy="606" r="9"/></g>
<g id="n674" class="yo"><circle cx="769" cy="651" r="8.500"/></g>
<g id="n675" class="yo"><circle cx="785" cy="649" r="7.500"/></g>
<g id="n676" class="na"><circle cx="757.500" cy="643" r="8.500"/></g>
<g id="n677" class="yo"><circle cx="778" cy="690" r="7"/></g>
<g id="n678" class="yo"><circle cx="796.500" cy="686" r="8"/></g>
<g id="n679" class="yo"><circle cx="775.500" cy="720" r="6.500"/></g>
<g id="n680" class="yo"><circle cx="793" cy="714" r="5"/></g>
<g id="n681" class="yo"><circle cx="799.600" cy="743" r="4.500"/></g>
<g id="n682" class="yo"><circle cx="806" cy="768" r="4.500"/></g>
<g id="n683" class="yo"><circle cx="788" cy="776" r="5"/></g>
<g id="n684" class="yo"><circle cx="802.600" cy="800" r="5.500"/></g>
<g id="n685" class="yo"><circle cx="817.600" cy="798" r="5.500"/></g>
<g id="n686" class="bl"><circle cx="747" cy="664" r="9"/></g>
<g id="n687" class="bl"><circle cx="753" cy="732" r="8"/></g>
<g id="n688" class="pe"><circle cx="735.700" cy="619" r="7.500"/></g>
<g id="n689" class="yg"><circle cx="733" cy="634" r="8"/></g>
<g id="n690" class="pk"><circle cx="714" cy="603" r="9.500"/></g>
<g id="n691" class="pk"><circle cx="717.700" cy="627" r="8"/></g>
<g id="n692" class="bl"><circle cx="702.400" cy="634" r="9"/></g>
<g id="n693" class="tu"><circle cx="690" cy="615" r="9.500"/></g>
<g id="n694" class="tu"><circle cx="709" cy="621" r="9"/></g>
<g id="n695" class="dg"><circle cx="682" cy="637" r="8.500"/></g>
<g id="n696" class="bl"><circle cx="654.500" cy="639" r="9"/></g>
<g id="n697" class="pk"><circle cx="680" cy="658" r="11"/></g>
<g id="n698" class="bl"><circle cx="698" cy="662" r="8.500"/></g>
<g id="n699" class="pk"><circle cx="719" cy="662" r="8"/></g>
<g id="n700" class="ma"><circle cx="663" cy="606" r="12"/></g>
<g id="n701" class="ma"><circle cx="649" cy="568" r="9.500"/></g>
<g id="n702" class="pe"><circle cx="653" cy="585" r="10"/></g>
<g id="n703" class="bl"><circle cx="643" cy="604" r="11.500"/></g>
<g id="n704" class="bl"><circle cx="656" cy="550" r="10"/></g>
<g id="n705" class="ma"><circle cx="701" cy="561" r="9"/></g>
<g id="n706" class="bl"><circle cx="670" cy="558" r="11"/></g>
<g id="n707" class="bl"><circle cx="687" cy="563" r="10"/></g>
<g id="n708" class="bl"><circle cx="669.500" cy="590" r="8.500"/></g>
<g id="n709" class="bl"><circle cx="677" cy="579" r="11.500"/></g>
<g id="n710" class="bl"><circle cx="697" cy="583" r="10"/></g>
<g id="n711" class="ma"><circle cx="646" cy="513" r="11"/></g>
<g id="n712" class="bl"><circle cx="663" cy="499" r="9.500"/></g>
<g id="n713" class="bl"><circle cx="696" cy="523" r="11.500"/></g>
<g id="n714" class="bl"><circle cx="687.500" cy="510" r="12.500"/></g>
<g id="n715" class="bl"><circle cx="667.500" cy="517" r="11.500"/></g>
<g id="n716" class="re"><circle cx="680.600" cy="535" r="11"/></g>
<g id="n717" class="bl"><circle cx="708" cy="545" r="11.500"/></g>
<g id="n718" class="or"><circle cx="722.700" cy="528" r="9.500"/></g>
<g id="n719" class="lo"><circle cx="749" cy="530" r="12"/></g>
<g id="n720" class="bl"><circle cx="765" cy="523" r="9"/></g>
<g id="n721" class="bl"><circle cx="738" cy="552" r="9"/></g>
<g id="n722" class="bl"><circle cx="754.400" cy="565" r="7.500"/></g>
<g id="n723" class="tu"><circle cx="766" cy="556" r="8.500"/></g>
<g id="n724" class="lo"><circle cx="775" cy="547" r="8"/></g>
<g id="n725" class="ol"><circle cx="788" cy="539" r="9"/></g>
<g id="n726" class="ol"><circle cx="707" cy="506" r="11"/></g>
<g id="n727" class="tu"><circle cx="692.500" cy="485" r="8"/></g>
<g id="n728" class="tu"><circle cx="708" cy="490" r="9"/></g>
<g id="n729" class="tu"><circle cx="689" cy="471" r="8"/></g>
<g id="n730" class="bl"><circle cx="673.700" cy="469" r="7.500"/></g>
<g id="n731" class="bl"><circle cx="738" cy="478" r="8.500"/></g>
<g id="n732" class="ma"><circle cx="743" cy="497" r="9"/></g>
<g id="n733" class="ma"><circle cx="762" cy="501" r="10"/></g>
<g id="n734" class="ma"><circle cx="733" cy="436" r="9.500"/></g>
<g id="n735" class="ma"><circle cx="770.500" cy="460" r="11.500"/></g>
<g id="n736" class="ma"><circle cx="756" cy="463" r="9"/></g>
<g id="n737" class="ol"><circle cx="780.700" cy="411" r="9.500"/></g>
<g id="n738" class="nt"><circle cx="801.700" cy="409" r="8.500"/></g>
<g id="n739" class="pe"><circle cx="843.400" cy="413" r="8.500"/></g>
<g id="n740" class="re"><circle cx="879" cy="413" r="5"/></g>
<g id="n741" class="pe"><circle cx="894" cy="414" r="6.500"/></g>
<g id="n742" class="nt"><circle cx="863.700" cy="396" r="6"/></g>
<g id="n743" class="re"><circle cx="827.700" cy="425" r="8"/></g>
<g id="n744" class="ma"><circle cx="803" cy="427" r="9.500"/></g>
<g id="n745" class="re"><circle cx="781.500" cy="447" r="9"/></g>
<g id="n746" class="re"><circle cx="799" cy="446" r="10"/></g>
<g id="n747" class="ma"><circle cx="818.300" cy="446" r="8"/></g>
<g id="n748" class="nt"><circle cx="874.600" cy="447" r="7"/></g>
<g id="n749" class="re"><circle cx="902.500" cy="443" r="8"/></g>
<g id="n750" class="re"><circle cx="902" cy="461" r="8"/></g>
<g id="n751" class="re"><circle cx="825" cy="465" r="8"/></g>
<g id="n752" class="re"><circle cx="861" cy="468" r="8"/></g>
<g id="n753" class="re"><circle cx="785" cy="485" r="9.500"/></g>
<g id="n754" class="re"><circle cx="812.600" cy="485" r="8.500"/></g>
<g id="n755" class="re"><circle cx="870" cy="490" r="10"/></g>
<g id="n756" class="re"><circle cx="904" cy="490" r="8.500"/></g>
<g id="n757" class="re"><circle cx="931.600" cy="497" r="9"/></g>
<g id="n758" class="re"><circle cx="833" cy="496" r="9"/></g>
<g id="n759" class="re"><circle cx="959" cy="503" r="8"/></g>
<g id="n760" class="re"><circle cx="805.700" cy="505" r="9"/></g>
<g id="n761" class="re"><circle cx="868.500" cy="506" r="8"/></g>
<g id="n762" class="re"><circle cx="905" cy="513" r="8.500"/></g>
<g id="n763" class="re"><circle cx="937.700" cy="520" r="8"/></g>
<g id="n764" class="re"><circle cx="808.400" cy="529" r="11"/></g>
<g id="n765" class="re"><circle cx="848" cy="529" r="9.500"/></g>
<g id="n766" class="re"><circle cx="870" cy="522" r="9"/></g>
<g id="n767" class="re"><circle cx="922.400" cy="530" r="4.500"/></g>
<g id="n768" class="re"><circle cx="834" cy="537" r="8.500"/></g>
<g id="n769" class="re"><circle cx="900" cy="536" r="7.500"/></g>
<g id="n770" class="re"><circle cx="927.400" cy="545" r="6.500"/></g>
<g id="n771" class="re"><circle cx="820.600" cy="549" r="10"/></g>
<g id="n772" class="re"><circle cx="866.600" cy="550" r="8"/></g>
<g id="n773" class="re"><circle cx="884.500" cy="556" r="7"/></g>
<g id="n774" class="re"><circle cx="800.700" cy="568" r="9"/></g>
</g>
</svg>
